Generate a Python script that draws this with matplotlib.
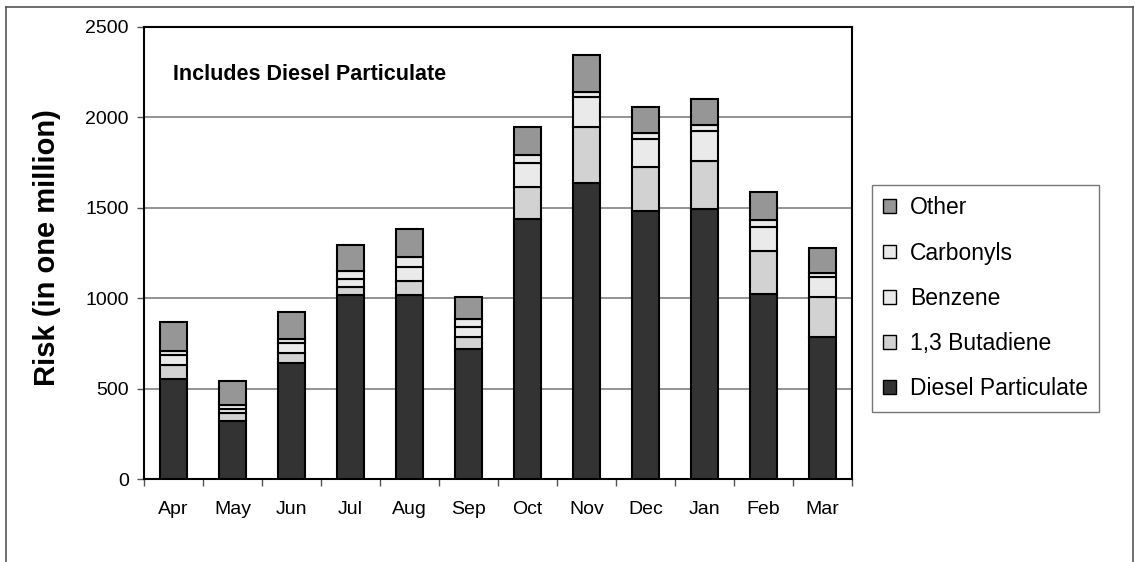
import matplotlib
matplotlib.use("Agg")
import matplotlib.pyplot as plt
import numpy as np
from matplotlib.lines import Line2D

plt.rcParams['font.family'] = ['Liberation Sans', 'DejaVu Sans']

months = ["Apr", "May", "Jun", "Jul", "Aug", "Sep", "Oct", "Nov", "Dec", "Jan", "Feb", "Mar"]
diesel = [553, 321, 641, 1020, 1020, 721, 1438, 1635, 1480, 1491, 1021, 785]
butadiene = [77, 46, 56, 42, 77, 65, 179, 314, 246, 269, 240, 220]
benzene = [56, 22, 57, 44, 77, 55, 133, 166, 155, 166, 135, 114]
carbonyls = [24, 23, 22, 46, 56, 44, 42, 27, 35, 34, 35, 19]
other = [156, 132, 146, 143, 150, 124, 155, 205, 142, 142, 155, 138]

series = [
    ("Diesel Particulate", diesel, "#333333"),
    ("1,3 Butadiene", butadiene, "#d2d2d2"),
    ("Benzene", benzene, "#eaeaea"),
    ("Carbonyls", carbonyls, "#eaeaea"),
    ("Other", other, "#969696"),
]

fig = plt.figure(figsize=(11.35, 5.62), dpi=100)
ax = fig.add_axes([144/1135, 1-479/562, (852-144)/1135, (479-27)/562])

x = np.arange(len(months))
bottom = np.zeros(len(months))
handles = []
for name, vals, col in series:
    b = ax.bar(x, vals, width=0.45, bottom=bottom, color=col, edgecolor="black",
               linewidth=1.5, zorder=3, label=name)
    bottom += np.array(vals)
    handles.append(b)

ax.set_xlim(-0.5, len(months) - 0.5)
ax.set_ylim(0, 2500)
ax.set_yticks([0, 500, 1000, 1500, 2000, 2500])
ax.yaxis.grid(True, color="#808080", linewidth=1.2, zorder=0)
ax.set_axisbelow(True)

ax.set_xticks(x)
ax.set_xticklabels(months, fontsize=14)
ax.set_xticks(np.arange(-0.5, len(months), 1.0), minor=True)
ax.tick_params(axis="x", which="major", length=0, pad=16)
ax.tick_params(axis="x", which="minor", length=5, width=1, color="#555555", direction="out")
ax.tick_params(axis="y", length=5, width=1, color="#555555", labelsize=14, pad=6)

for s in ax.spines.values():
    s.set_color("black")
    s.set_linewidth(1.5)

fig.text(47.5/1135, 1-247.5/562, "Risk (in one million)", rotation=90,
         fontsize=21, fontweight="bold", ha="center", va="center")

ax.text(0.041, (479-75)/452, "Includes Diesel Particulate", transform=ax.transAxes,
        fontsize=15.5, fontweight="bold", va="center", ha="left")

leg = fig.legend(handles[::-1], [s[0] for s in series][::-1],
                 loc="upper left", bbox_to_anchor=(872/1135, 1-185/562),
                 frameon=True, fancybox=False, edgecolor="#555555",
                 fontsize=16.5, handlelength=0.55, handleheight=0.55,
                 handletextpad=0.6, labelspacing=0.97, borderpad=0.5,
                 borderaxespad=0)
leg.get_frame().set_linewidth(1.0)
for h in leg.legend_handles:
    h.set_linewidth(1.0)

# outer chart frame
fc = "#555555"
fig.add_artist(Line2D([6/1135, 1133/1135], [1-7/562, 1-7/562], transform=fig.transFigure, color=fc, lw=1.2))
fig.add_artist(Line2D([6/1135, 6/1135], [0, 1-7/562], transform=fig.transFigure, color=fc, lw=1.2))
fig.add_artist(Line2D([1133/1135, 1133/1135], [0, 1-7/562], transform=fig.transFigure, color=fc, lw=1.2))

fig.savefig("out.png", dpi=100)
